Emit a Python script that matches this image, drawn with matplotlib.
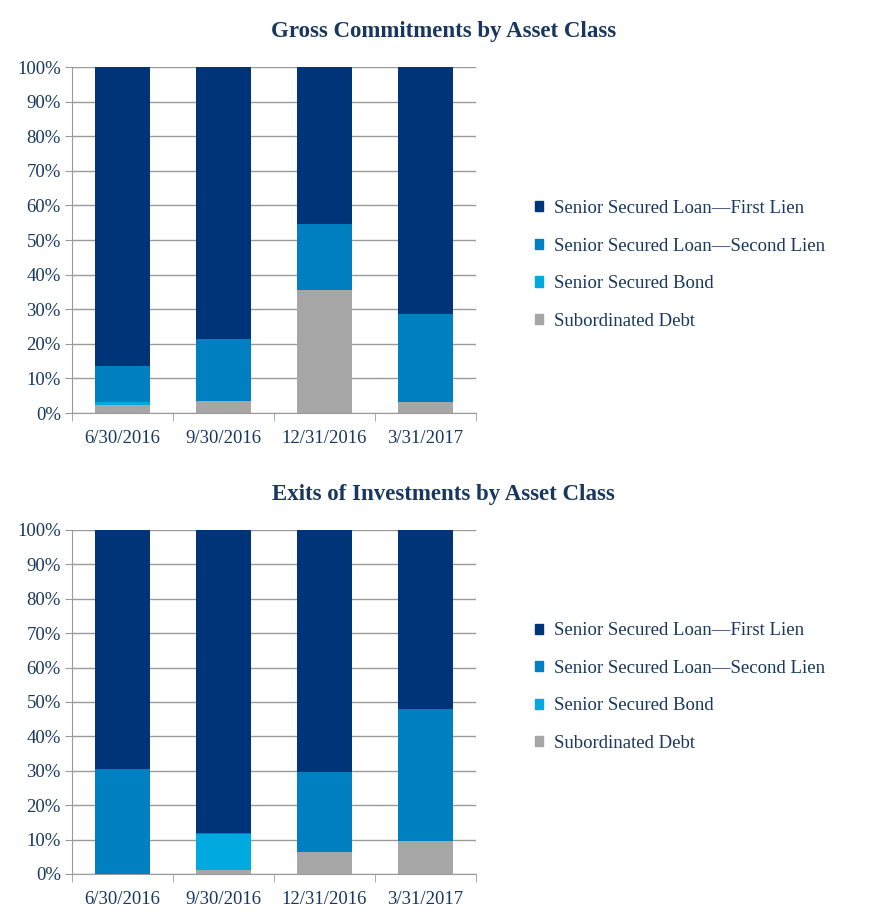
import matplotlib.pyplot as plt
from matplotlib.patches import Patch
from matplotlib.ticker import PercentFormatter
import numpy as np

periods = ["6/30/2016", "9/30/2016", "12/31/2016", "3/31/2017"]
series_names = ["Senior Secured Loan\u2014First Lien",
                "Senior Secured Loan\u2014Second Lien",
                "Senior Secured Bond",
                "Subordinated Debt"]

# values in % (bottom-up stacking: subordinated, bond, second lien, first lien)
commit_sub = [2.3, 3.5, 35.7, 3.3]
commit_bond = [0.9, 0.0, 0.0, 0.0]
commit_second = [10.5, 17.9, 18.8, 25.4]
commit_first = [100 - a - b - c for a, b, c in zip(commit_sub, commit_bond, commit_second)]

exit_sub = [0.0, 1.2, 6.4, 9.6]
exit_bond = [0.0, 10.4, 0.0, 0.0]
exit_second = [30.5, 0.4, 23.3, 38.4]
exit_first = [100 - a - b - c for a, b, c in zip(exit_sub, exit_bond, exit_second)]

colors = {"first": "#003478", "second": "#0080C0", "bond": "#00A9E0", "sub": "#A6A6A6"}
text_color = "#17375E"
grid_color = "#9A9A9A"

plt.rcParams['font.family'] = ['Liberation Serif', 'DejaVu Serif']

fig = plt.figure(figsize=(8.87, 9.23), dpi=100)


def draw_panel(rect, title, sub, bond, second, first, legend_y):
    ax = fig.add_axes(rect)
    x = np.arange(len(periods))
    w = 0.55
    bottom = np.zeros(len(periods))
    for vals, key in [(sub, "sub"), (bond, "bond"), (second, "second"), (first, "first")]:
        ax.bar(x, vals, w, bottom=bottom, color=colors[key], zorder=3)
        bottom += np.array(vals)

    ax.set_xlim(-0.5, 3.5)
    ax.set_ylim(0, 100)
    ax.set_yticks(np.arange(0, 101, 10))
    ax.yaxis.set_major_formatter(PercentFormatter(decimals=0))
    ax.grid(axis="y", color=grid_color, linewidth=1, zorder=0)
    ax.set_xticks(x)
    ax.set_xticklabels(periods)
    ax.set_xticks(np.arange(-0.5, 3.6, 1), minor=True)
    ax.tick_params(axis="x", which="major", length=0, pad=12, labelsize=13.5, labelcolor=text_color)
    ax.tick_params(axis="x", which="minor", length=6, color=grid_color)
    ax.tick_params(axis="y", length=5, color=grid_color, labelsize=13.5, labelcolor=text_color, pad=3)
    for s in ["top", "right"]:
        ax.spines[s].set_visible(False)
    for s in ["left", "bottom"]:
        ax.spines[s].set_color(grid_color)

    fig.text(0.5, rect[1] + rect[3] + 0.0385, title, ha="center", va="center",
             fontsize=16.5, fontweight="bold", color=text_color)

    handles = [Patch(color=colors[k]) for k in ["first", "second", "bond", "sub"]]
    fig.legend(handles, series_names, loc="center left", bbox_to_anchor=(0.584, legend_y),
               frameon=False, fontsize=13.5, labelcolor=text_color, labelspacing=1.1,
               handlelength=0.45, handleheight=0.45, handletextpad=0.55)
    return ax


draw_panel([0.0812, 0.5525, 0.4555, 0.3749], "Gross Commitments by Asset Class",
           commit_sub, commit_bond, commit_second, commit_first, 0.713)
draw_panel([0.0812, 0.0531, 0.4555, 0.3727], "Exits of Investments by Asset Class",
           exit_sub, exit_bond, exit_second, exit_first, 0.2555)

fig.savefig("out.png", dpi=100)
